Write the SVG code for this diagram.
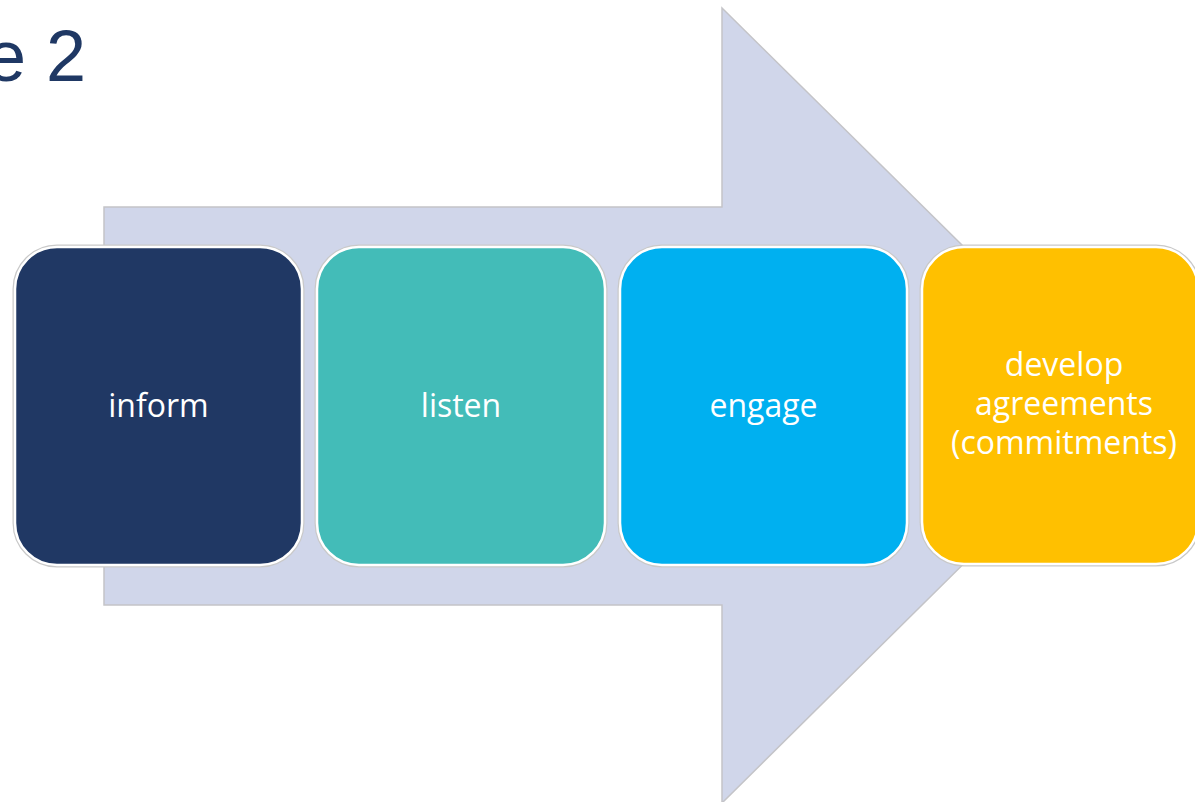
<svg xmlns="http://www.w3.org/2000/svg" width="1195" height="802" viewBox="0 0 1195 802">
  <defs>
    <style>
      .title { font-family: "Liberation Sans", Arial, sans-serif; font-size: 72px; fill: #1f3864; }
      .box-edge { fill: none; stroke: #c9c9c9; stroke-width: 5; }
      .box { stroke: #ffffff; stroke-width: 2.5; }
      .label { font-family: "Open Sans", "Noto Sans", sans-serif; font-size: 32px; fill: #ffffff; text-anchor: middle; }
      .arrow { fill: #d0d6ea; stroke: #c4c4c8; stroke-width: 1.5; stroke-linejoin: miter; }
    </style>
  </defs>
  <rect width="1195" height="802" fill="#ffffff"/>
  <text class="title" x="-14" y="81">e 2</text>

  <g id="connectors">
    <polygon class="arrow" points="104,207 722,207 722,8 1124,405 722,803 722,605 104,605"/>
  </g>

  <g id="node-inform">
    <rect class="box-edge" x="15" y="247" width="287" height="318" rx="42" ry="42"/>
    <rect class="box" x="15" y="247" width="287" height="318" rx="42" ry="42" fill="#203864"/>
    <text class="label" x="158.5" y="417">inform</text>
  </g>

  <g id="node-listen">
    <rect class="box-edge" x="317" y="247" width="288" height="318" rx="42" ry="42"/>
    <rect class="box" x="317" y="247" width="288" height="318" rx="42" ry="42" fill="#43bcb8"/>
    <text class="label" x="461" y="417">listen</text>
  </g>

  <g id="node-engage">
    <rect class="box-edge" x="620" y="247" width="287" height="318" rx="42" ry="42"/>
    <rect class="box" x="620" y="247" width="287" height="318" rx="42" ry="42" fill="#00b0f0"/>
    <text class="label" x="763.5" y="417">engage</text>
  </g>

  <g id="node-develop">
    <rect class="box-edge" x="922" y="247" width="276" height="317" rx="42" ry="42"/>
    <rect class="box" x="922" y="247" width="276" height="317" rx="42" ry="42" fill="#ffc000"/>
    <text class="label" x="1064" y="376">develop</text>
    <text class="label" x="1064" y="415">agreements</text>
    <text class="label" x="1064" y="454">(commitments)</text>
  </g>
</svg>
